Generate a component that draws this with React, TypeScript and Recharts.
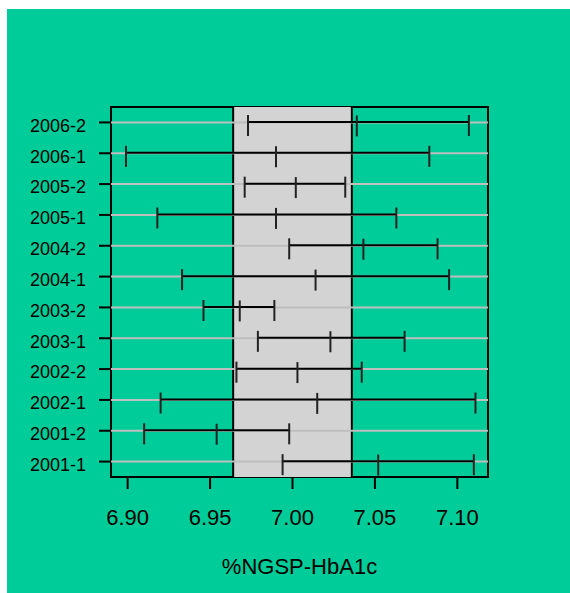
import React from "react";
import {
  ComposedChart,
  Bar,
  Scatter,
  XAxis,
  YAxis,
  ReferenceArea,
  ReferenceLine,
} from "recharts";

// survey rounds, bottom to top
const periods = [
  "2001-1", "2001-2", "2002-1", "2002-2", "2003-1", "2003-2",
  "2004-1", "2004-2", "2005-1", "2005-2", "2006-1", "2006-2",
];
const lows = [6.994, 6.910, 6.920, 6.966, 6.979, 6.946, 6.933, 6.998, 6.918, 6.971, 6.899, 6.973];
const mids = [7.052, 6.954, 7.015, 7.003, 7.023, 6.968, 7.014, 7.043, 6.990, 7.002, 6.990, 7.039];
const highs = [7.110, 6.998, 7.111, 7.042, 7.068, 6.989, 7.095, 7.088, 7.063, 7.032, 7.083, 7.107];

const xTicks = [6.9, 6.95, 7.0, 7.05, 7.1];
const xDomain: [number, number] = [6.8899, 7.1186];
const band: [number, number] = [6.964, 7.036];

const data = periods.map((p, i) => ({
  period: p,
  range: [lows[i], highs[i]],
  mid: mids[i],
}));

const FONT = "'Liberation Sans', Arial, Helvetica, sans-serif";
const GREEN = "#00CC99";

const RangeShape = (props: any) => {
  const { x, y, width, height } = props;
  const cy = y + height / 2;
  return (
    <g>
      <line x1={x} x2={x + width} y1={cy} y2={cy} stroke="#000" strokeWidth={2} />
      <line x1={x} x2={x} y1={cy - 7} y2={cy + 14} stroke="#222" strokeWidth={2} />
      <line x1={x + width} x2={x + width} y1={cy - 7} y2={cy + 14} stroke="#222" strokeWidth={2} />
    </g>
  );
};

const MidTick = (props: any) => {
  const { cx, cy } = props;
  return <line x1={cx} x2={cx} y1={cy - 7} y2={cy + 14} stroke="#222" strokeWidth={2} />;
};

export default function App() {
  return (
    <div style={{ margin: "9px 0 0 7px", width: 563, height: 584, background: GREEN }}>
      <style>{"body{margin:0;overflow:hidden}"}</style>
      <ComposedChart
        layout="vertical"
        width={563}
        height={584}
        data={data}
        margin={{ top: 98, right: 82, left: 0, bottom: 0 }}
        style={{ fontFamily: FONT }}
      >
        <XAxis
          type="number"
          domain={xDomain}
          ticks={xTicks}
          allowDataOverflow
          axisLine={false}
          tickSize={12}
          tickMargin={20}
          tickLine={{ stroke: "#000", strokeWidth: 2 }}
          tick={{ fill: "#000", fontSize: 22, fontFamily: FONT }}
          tickFormatter={(v: number) => v.toFixed(2)}
          height={116}
          label={{
            value: "%NGSP-HbA1c",
            position: "insideBottom",
            offset: 19,
            fill: "#000",
            fontSize: 22,
            fontFamily: FONT,
          }}
        />
        <YAxis
          type="category"
          dataKey="period"
          reversed
          width={104}
          axisLine={false}
          tickSize={12}
          tickMargin={13}
          tickLine={{ stroke: "#000", strokeWidth: 2 }}
          tick={{ fill: "#000", fontSize: 18, fontFamily: FONT, dy: 3 }}
          interval={0}
        />
        <ReferenceArea
          x1={xDomain[0]}
          x2={xDomain[1]}
          fill="none"
          stroke="#000"
          strokeWidth={2}
          fillOpacity={0}
          zIndex={150}
        />
        <ReferenceArea
          x1={band[0]}
          x2={band[1]}
          fill="#D3D3D3"
          fillOpacity={1}
          stroke="none"
          zIndex={160}
        />
        <ReferenceLine x={band[0]} stroke="#000" strokeWidth={2} zIndex={170} />
        <ReferenceLine x={band[1]} stroke="#000" strokeWidth={2} zIndex={170} />
        {periods.map((p) => (
          <ReferenceLine key={p} y={p} stroke="#BEBEBE" strokeWidth={2} zIndex={250} />
        ))}
        <Bar dataKey="range" barSize={20} shape={<RangeShape />} isAnimationActive={false} zIndex={300} />
        <Scatter dataKey="mid" shape={<MidTick />} isAnimationActive={false} zIndex={600} />
      </ComposedChart>
    </div>
  );
}
